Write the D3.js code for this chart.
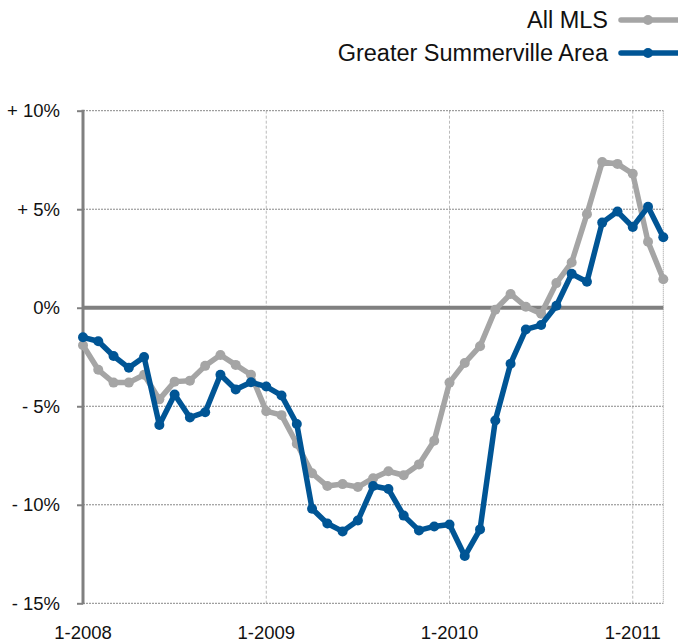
<!DOCTYPE html>
<html>
<head>
<meta charset="utf-8">
<script src="https://cdn.jsdelivr.net/npm/d3@7"></script>
<style>
  body { margin: 0; background: #fff; }
  text { font-family: "Liberation Sans", Arial, sans-serif; fill: #111; }
</style>
</head>
<body>
<script>
const width = 678;
const height = 644;

// months from 1-2008 to 3-2011
const months = d3.range(39);
const xTickMonths = [0, 12, 24, 36];
const xTickLabels = ['1-2008', '1-2009', '1-2010', '1-2011'];
const yTicks = [10, 5, 0, -5, -10, -15];
const yTickLabels = ['+ 10%', '+ 5%', '0%', '- 5%', '- 10%', '- 15%'];

const seriesNames = ['All MLS', 'Greater Summerville Area'];
const allMls = [-1.9, -3.15, -3.8, -3.8, -3.4, -4.65, -3.75, -3.7, -2.95, -2.4,
    -2.9, -3.4, -5.25, -5.45, -6.9, -8.4, -9.05, -8.95, -9.1, -8.65,
    -8.3, -8.5, -7.95, -6.75, -3.8, -2.8, -1.95, -0.1, 0.7, 0.05,
    -0.3, 1.25, 2.3, 4.75, 7.4, 7.3, 6.8, 3.35, 1.45];
const summerville = [-1.5, -1.7, -2.45, -3.05, -2.5, -5.95, -4.4, -5.57, -5.3, -3.4,
    -4.15, -3.78, -4.0, -4.45, -5.9, -10.2, -10.95, -11.35, -10.8, -9.05,
    -9.2, -10.55, -11.3, -11.1, -11.0, -12.6, -11.25, -5.72, -2.84, -1.1,
    -0.88, 0.1, 1.72, 1.32, 4.32, 4.88, 4.1, 5.12, 3.58];
const colors = ['#a5a5a5', '#005595'];

const plotLeft = 83, plotRight = 663.3, plotTop = 110.7, plotBottom = 603.3;

const svg = d3.select('body').append('svg')
    .attr('width', width)
    .attr('height', height);

const x = d3.scaleLinear().domain([0, 38]).range([plotLeft, plotRight]);
const y = d3.scaleLinear().domain([-15, 10]).range([plotBottom, plotTop]);

// vertical grid at year starts
svg.append('g').selectAll('line')
    .data(xTickMonths.slice(1))
    .join('line')
    .attr('x1', d => x(d)).attr('x2', d => x(d))
    .attr('y1', plotTop).attr('y2', plotBottom)
    .attr('stroke', '#bbb')
    .attr('stroke-width', 1)
    .attr('stroke-dasharray', '3,2');

// right edge
svg.append('line')
    .attr('x1', plotRight).attr('x2', plotRight)
    .attr('y1', plotTop).attr('y2', plotBottom)
    .attr('stroke', '#999')
    .attr('stroke-dasharray', '1,1');

// horizontal grid
svg.append('g').selectAll('line')
    .data(yTicks.filter(d => d !== 0))
    .join('line')
    .attr('x1', plotLeft).attr('x2', plotRight)
    .attr('y1', d => y(d)).attr('y2', d => y(d))
    .attr('stroke', '#888')
    .attr('stroke-width', 1)
    .attr('stroke-dasharray', '2,1');

// y axis
const yAxis = d3.axisLeft(y)
    .tickValues(yTicks)
    .tickSize(6)
    .tickFormat((d, i) => yTickLabels[i]);

const gy = svg.append('g')
    .attr('transform', 'translate(' + plotLeft + ',0)')
    .call(yAxis);
gy.select('.domain').remove();
gy.selectAll('.tick line').attr('stroke', '#808080').attr('stroke-width', 2);
gy.selectAll('.tick text')
    .attr('x', -23)
    .style('font-size', '18.5px');

svg.append('line')
    .attr('x1', plotLeft).attr('x2', plotLeft)
    .attr('y1', plotTop - 1).attr('y2', plotBottom + 1)
    .attr('stroke', '#808080')
    .attr('stroke-width', 3);

// zero line
svg.append('line')
    .attr('x1', plotLeft).attr('x2', plotRight)
    .attr('y1', y(0)).attr('y2', y(0))
    .attr('stroke', '#808080')
    .attr('stroke-width', 4);

// x labels
svg.append('g').selectAll('text')
    .data(xTickMonths)
    .join('text')
    .attr('x', d => x(d))
    .attr('y', 639)
    .attr('text-anchor', 'middle')
    .style('font-size', '18.5px')
    .text((d, i) => xTickLabels[i]);

const line = d3.line()
    .x((d, i) => x(months[i]))
    .y(d => y(d));

[allMls, summerville].forEach((s, k) => {
    svg.append('path')
        .attr('d', line(s))
        .attr('fill', 'none')
        .attr('stroke', colors[k])
        .attr('stroke-width', 5.5)
        .attr('stroke-linejoin', 'round');
    svg.append('g').selectAll('circle')
        .data(s)
        .join('circle')
        .attr('cx', (d, i) => x(months[i]))
        .attr('cy', d => y(d))
        .attr('r', 5)
        .attr('fill', colors[k]);
});

// legend
seriesNames.forEach((name, k) => {
    const ly = 20 + k * 33;
    svg.append('text')
        .attr('x', 608)
        .attr('y', ly + 8)
        .attr('text-anchor', 'end')
        .style('font-size', '23.5px')
        .text(name);
    svg.append('line')
        .attr('x1', 621).attr('x2', 677)
        .attr('y1', ly).attr('y2', ly)
        .attr('stroke', colors[k])
        .attr('stroke-width', 5.5)
        .attr('stroke-linecap', 'round');
    svg.append('circle')
        .attr('cx', 648).attr('cy', ly)
        .attr('r', 5)
        .attr('fill', colors[k]);
});
</script>
</body>
</html>
